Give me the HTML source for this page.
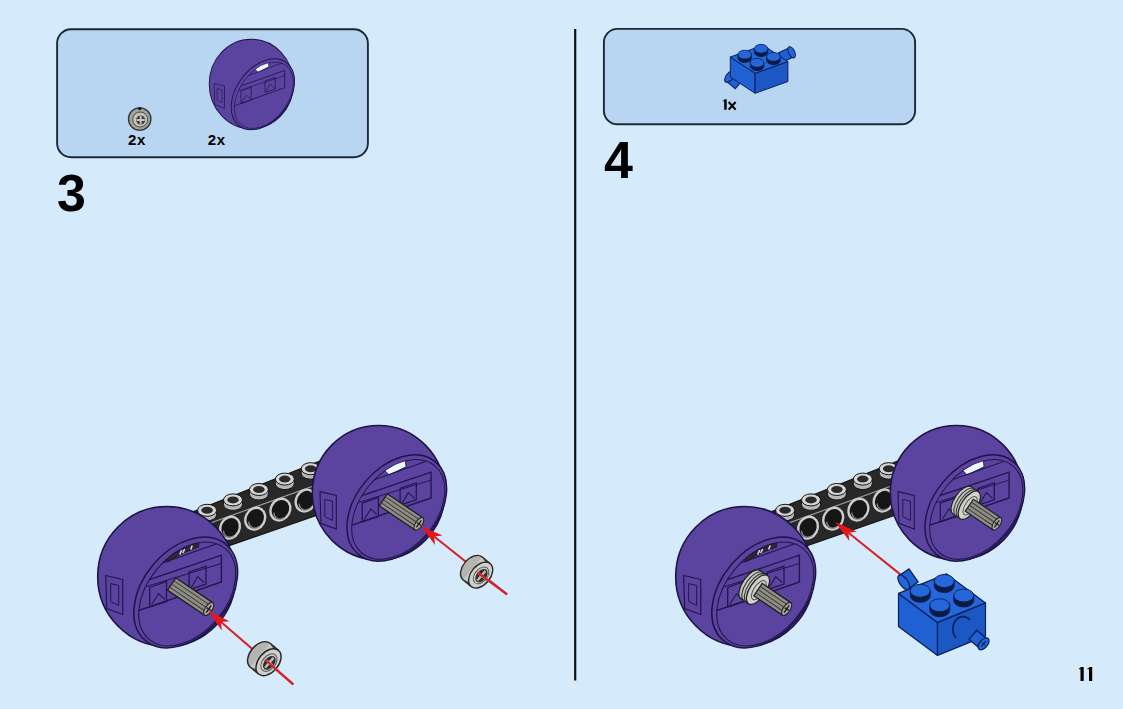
<!DOCTYPE html>
<html><head><meta charset="utf-8">
<style>
html,body{margin:0;padding:0;}
body{width:1123px;height:709px;overflow:hidden;background:#d5eafa;position:relative;font-family:"Liberation Sans",sans-serif;}
.box{position:absolute;background:#b8d6f2;border:1.5px solid #1d2a38;border-radius:14px;box-sizing:border-box;}
.t{position:absolute;font-weight:bold;color:#000;line-height:1;white-space:nowrap;}
.vline{position:absolute;left:574px;top:29px;width:2.2px;height:652px;background:#111;}
svg{position:absolute;left:0;top:0;}
</style></head><body>

<svg width="1123" height="709" viewBox="0 0 1123 709"><rect x="57.1" y="29.2" width="310.8" height="128" rx="14" fill="#b8d6f2" stroke="#1b2837" stroke-width="1.9"/>
<rect x="603.9" y="28.9" width="311.2" height="95.4" rx="13.5" fill="#b8d6f2" stroke="#1b2837" stroke-width="1.9"/>
<rect x="574.1" y="29" width="2.2" height="651.5" fill="#111"/>
<defs><g id="wL">
<ellipse cx="-19" cy="-16" rx="69" ry="70" fill="#5b449f" stroke="#1e1346" stroke-width="1.6"/>
<path d="M-80,-17 L-63,-13 L-63,22 L-79,16 Z" fill="none" stroke="#22164e" stroke-width="1.2"/>
<path d="M-75,-9 L-67,-7 L-67,13 L-75,9 Z" fill="none" stroke="#22164e" stroke-width="1"/>
<ellipse cx="0" cy="0" rx="62.7" ry="42.7" transform="rotate(-50)" fill="#5b449f" stroke="#1e1346" stroke-width="1.5"/>
<clipPath id="wLc"><ellipse cx="1.5" cy="1.5" rx="59.2" ry="39.2" transform="rotate(-50 1.5 1.5)"/></clipPath>
<ellipse cx="1.5" cy="1.5" rx="59.2" ry="39.2" transform="rotate(-50 1.5 1.5)" fill="none" stroke="#22164e" stroke-width="1.1"/>
<g clip-path="url(#wLc)">
<path d="M-20,-33.5 Q-3,-45 13,-50 L13,-45.5 Q-3,-41 -18,-30.5 Z" fill="#2a2a2a" stroke="#1e1346" stroke-width="0.9"/>
<path d="M-6,-38 L-4,-42.5 M-3,-39.5 L-1,-43.5 M5,-43 L6.5,-47" stroke="#d8d8d8" stroke-width="1.6"/>
<path d="M-70,-1.5 L35.7,-37.3 L35.7,-10.5 L-70,26" fill="none" stroke="#22164e" stroke-width="1.4"/>
<path d="M-70,3.5 L35.7,-29" fill="none" stroke="#22164e" stroke-width="1"/>
<path d="M-30,-27 L40,-52" fill="none" stroke="#22164e" stroke-width="1.1"/>
<path d="M-36,-5 L-19.2,-11 L-19.2,9 L-36,14.5 Z" fill="none" stroke="#22164e" stroke-width="1.3"/>
<path d="M-34,12 L-27,1 L-21,7" fill="none" stroke="#22164e" stroke-width="1.1"/>
<path d="M3.4,-20.5 L20.3,-26.3 L20.3,-8.5 L3.4,-3 Z" fill="none" stroke="#22164e" stroke-width="1.3"/>
<path d="M5.5,-5 L12,-16 L18.5,-10" fill="none" stroke="#22164e" stroke-width="1.1"/>
</g>
</g><g id="wR">
<rect x="46" y="-32.5" width="4.5" height="25" fill="#3a2a70" stroke="#1e1346" stroke-width="1"/>
<ellipse cx="-19" cy="-16" rx="69" ry="70" fill="#5b449f" stroke="#1e1346" stroke-width="1.6"/>
<path d="M-80,-17 L-63,-13 L-63,22 L-79,16 Z" fill="none" stroke="#22164e" stroke-width="1.2"/>
<path d="M-75,-9 L-67,-7 L-67,13 L-75,9 Z" fill="none" stroke="#22164e" stroke-width="1"/>
<ellipse cx="0" cy="0" rx="62.7" ry="42.7" transform="rotate(-50)" fill="#5b449f" stroke="#1e1346" stroke-width="1.5"/>
<clipPath id="wRc"><ellipse cx="1.5" cy="1.5" rx="59.2" ry="39.2" transform="rotate(-50 1.5 1.5)"/></clipPath>
<ellipse cx="1.5" cy="1.5" rx="59.2" ry="39.2" transform="rotate(-50 1.5 1.5)" fill="none" stroke="#22164e" stroke-width="1.1"/>
<g clip-path="url(#wRc)">
<path d="M-12.2,-38.7 L-9.4,-44.3 L8.9,-49.2 L9.7,-42.9 L-8,-34.4 Z" fill="#eef6ff" stroke="#1e1346" stroke-width="0.9"/>
<path d="M-70,-1.5 L35.7,-37.3 L35.7,-10.5 L-70,26" fill="none" stroke="#22164e" stroke-width="1.4"/>
<path d="M-70,3.5 L35.7,-29" fill="none" stroke="#22164e" stroke-width="1"/>
<path d="M-30,-27 L40,-52" fill="none" stroke="#22164e" stroke-width="1.1"/>
<path d="M-36,-5 L-19.2,-11 L-19.2,9 L-36,14.5 Z" fill="none" stroke="#22164e" stroke-width="1.3"/>
<path d="M-34,12 L-27,1 L-21,7" fill="none" stroke="#22164e" stroke-width="1.1"/>
<path d="M3.4,-20.5 L20.3,-26.3 L20.3,-8.5 L3.4,-3 Z" fill="none" stroke="#22164e" stroke-width="1.3"/>
<path d="M5.5,-5 L12,-16 L18.5,-10" fill="none" stroke="#22164e" stroke-width="1.1"/>
</g>
</g><g id="beam">
<path d="M150,529 L400,429 L400,486.41 L150,573.16Z" fill="#282828" stroke="#151515" stroke-width="1.2"/>
<path d="M150,544.8 L400,454.8" stroke="#a0a0a0" stroke-width="1.1"/>
<ellipse cx="230" cy="527.7" rx="9.5" ry="11.2" transform="rotate(28 230 527.7)" fill="#161616" stroke="#cdcdcd" stroke-width="2.4"/>
<path d="M223.5,530.7 A7,8.5 28 0 0 234,535.7" fill="none" stroke="#8a8a8a" stroke-width="1.3"/>
<ellipse cx="255.2" cy="518.65" rx="9.5" ry="11.2" transform="rotate(28 255.2 518.65)" fill="#161616" stroke="#cdcdcd" stroke-width="2.4"/>
<path d="M248.7,521.65 A7,8.5 28 0 0 259.2,526.65" fill="none" stroke="#8a8a8a" stroke-width="1.3"/>
<ellipse cx="280.4" cy="509.6" rx="9.5" ry="11.2" transform="rotate(28 280.4 509.6)" fill="#161616" stroke="#cdcdcd" stroke-width="2.4"/>
<path d="M273.9,512.6 A7,8.5 28 0 0 284.4,517.6" fill="none" stroke="#8a8a8a" stroke-width="1.3"/>
<ellipse cx="305.6" cy="500.55" rx="9.5" ry="11.2" transform="rotate(28 305.6 500.55)" fill="#161616" stroke="#cdcdcd" stroke-width="2.4"/>
<path d="M299.1,503.55 A7,8.5 28 0 0 309.6,508.55" fill="none" stroke="#8a8a8a" stroke-width="1.3"/>
<ellipse cx="330.8" cy="491.5" rx="9.5" ry="11.2" transform="rotate(28 330.8 491.5)" fill="#161616" stroke="#cdcdcd" stroke-width="2.4"/>
<path d="M324.3,494.5 A7,8.5 28 0 0 334.8,499.5" fill="none" stroke="#8a8a8a" stroke-width="1.3"/>
<path d="M197.6,510.3 L197.6,514.8 A9.5,6 0 0 0 216.6,514.8 L216.6,510.3 Z" fill="#b8b8b8" stroke="#151515" stroke-width="1"/>
<ellipse cx="207.1" cy="510.3" rx="9.5" ry="6" fill="#d6d6d6" stroke="#151515" stroke-width="1"/>
<ellipse cx="207.1" cy="510.3" rx="5.8" ry="3.5" fill="#2a2a2a"/>
<path d="M223.5,499.9 L223.5,504.4 A9.5,6 0 0 0 242.5,504.4 L242.5,499.9 Z" fill="#b8b8b8" stroke="#151515" stroke-width="1"/>
<ellipse cx="233" cy="499.9" rx="9.5" ry="6" fill="#d6d6d6" stroke="#151515" stroke-width="1"/>
<ellipse cx="233" cy="499.9" rx="5.8" ry="3.5" fill="#2a2a2a"/>
<path d="M249.4,489.5 L249.4,494 A9.5,6 0 0 0 268.4,494 L268.4,489.5 Z" fill="#b8b8b8" stroke="#151515" stroke-width="1"/>
<ellipse cx="258.9" cy="489.5" rx="9.5" ry="6" fill="#d6d6d6" stroke="#151515" stroke-width="1"/>
<ellipse cx="258.9" cy="489.5" rx="5.8" ry="3.5" fill="#2a2a2a"/>
<path d="M275.3,479.1 L275.3,483.6 A9.5,6 0 0 0 294.3,483.6 L294.3,479.1 Z" fill="#b8b8b8" stroke="#151515" stroke-width="1"/>
<ellipse cx="284.8" cy="479.1" rx="9.5" ry="6" fill="#d6d6d6" stroke="#151515" stroke-width="1"/>
<ellipse cx="284.8" cy="479.1" rx="5.8" ry="3.5" fill="#2a2a2a"/>
<path d="M301.2,468.7 L301.2,473.2 A9.5,6 0 0 0 320.2,473.2 L320.2,468.7 Z" fill="#b8b8b8" stroke="#151515" stroke-width="1"/>
<ellipse cx="310.7" cy="468.7" rx="9.5" ry="6" fill="#d6d6d6" stroke="#151515" stroke-width="1"/>
<ellipse cx="310.7" cy="468.7" rx="5.8" ry="3.5" fill="#2a2a2a"/>
<path d="M327.1,458.3 L327.1,462.8 A9.5,6 0 0 0 346.1,462.8 L346.1,458.3 Z" fill="#b8b8b8" stroke="#151515" stroke-width="1"/>
<ellipse cx="336.6" cy="458.3" rx="9.5" ry="6" fill="#d6d6d6" stroke="#151515" stroke-width="1"/>
<ellipse cx="336.6" cy="458.3" rx="5.8" ry="3.5" fill="#2a2a2a"/>
</g></defs>
<use href="#beam"/>
<g transform="translate(185.7,592.5) scale(1)"><use href="#wL"/><g transform="translate(-14,-8.5) rotate(34.05)">
<rect x="0" y="-7.5" width="44.65" height="15" fill="#8e8e86" stroke="#1e1e1e" stroke-width="1.3"/>
<line x1="1" y1="-3.8" x2="41.65" y2="-3.8" stroke="#3c3c36" stroke-width="1"/>
<line x1="1" y1="0" x2="41.65" y2="0" stroke="#3c3c36" stroke-width="1"/>
<line x1="1" y1="3.8" x2="41.65" y2="3.8" stroke="#3c3c36" stroke-width="1"/>
<ellipse cx="44.65" cy="0" rx="3.5" ry="7.5" fill="#a8a8a0" stroke="#1e1e1e" stroke-width="1.1"/>
<path d="M42.15,0 L47.15,0 M44.65,-4.5 L44.65,4.5" stroke="#1e1e1e" stroke-width="1.4"/>
</g></g>
<g transform="translate(396.8,508) scale(0.96)"><use href="#wR"/><g transform="translate(-14,-8.5) rotate(34.05)">
<rect x="0" y="-7.5" width="44.65" height="15" fill="#8e8e86" stroke="#1e1e1e" stroke-width="1.3"/>
<line x1="1" y1="-3.8" x2="41.65" y2="-3.8" stroke="#3c3c36" stroke-width="1"/>
<line x1="1" y1="0" x2="41.65" y2="0" stroke="#3c3c36" stroke-width="1"/>
<line x1="1" y1="3.8" x2="41.65" y2="3.8" stroke="#3c3c36" stroke-width="1"/>
<ellipse cx="44.65" cy="0" rx="3.5" ry="7.5" fill="#a8a8a0" stroke="#1e1e1e" stroke-width="1.1"/>
<path d="M42.15,0 L47.15,0 M44.65,-4.5 L44.65,4.5" stroke="#1e1e1e" stroke-width="1.4"/>
</g></g>
<line x1="293.3" y1="684.4" x2="221.06" y2="621.92" stroke="#d42329" stroke-width="2"/>
<path d="M208.2,610.8 L229.52,621.31 L221.06,621.92 L221.67,630.38Z" fill="#e3161c"/>
<g transform="translate(264.7,659) scale(1.0) rotate(40)">
<ellipse cx="-6" cy="0" rx="10" ry="15.5" fill="#b4b4b0" stroke="#262626" stroke-width="1.4"/>
<rect x="-6" y="-15.5" width="11" height="31" fill="#c8c8c4"/>
<path d="M-6,-15.5 L5,-15.5 M-6,15.5 L5,15.5" stroke="#262626" stroke-width="1.4"/>
<path d="M-2,-15.5 A10,15.5 0 0 1 -2,15.5" fill="none" stroke="#262626" stroke-width="1.2"/>
<path d="M1.5,-15.5 A10,15.5 0 0 1 1.5,15.5" fill="none" stroke="#333" stroke-width="1.1"/>
<path d="M-4,-15 A10,15 0 0 1 -4,15" fill="none" stroke="#444" stroke-width="1"/>
<ellipse cx="5" cy="0" rx="10" ry="15.5" fill="#cfcfcb" stroke="#262626" stroke-width="1.4"/>
<ellipse cx="5.5" cy="0" rx="6.5" ry="10" fill="none" stroke="#555" stroke-width="1"/>
<ellipse cx="6" cy="0" rx="5" ry="8" fill="#2e2e2e"/>
<path d="M6,-6.5 L6,6.5 M2,0 L10,0" stroke="#bdbdb8" stroke-width="2.4"/>
</g>
<line x1="265" y1="659.5" x2="293.3" y2="684.4" stroke="#d42329" stroke-width="2.2"/>
<line x1="507" y1="594.4" x2="434.11" y2="536.48" stroke="#d42329" stroke-width="2"/>
<path d="M420.8,525.9 L442.54,535.51 L434.11,536.48 L435.07,544.91Z" fill="#e3161c"/>
<g transform="translate(477,572) scale(0.96) rotate(40)">
<ellipse cx="-6" cy="0" rx="10" ry="15.5" fill="#b4b4b0" stroke="#262626" stroke-width="1.4"/>
<rect x="-6" y="-15.5" width="11" height="31" fill="#c8c8c4"/>
<path d="M-6,-15.5 L5,-15.5 M-6,15.5 L5,15.5" stroke="#262626" stroke-width="1.4"/>
<path d="M-2,-15.5 A10,15.5 0 0 1 -2,15.5" fill="none" stroke="#262626" stroke-width="1.2"/>
<path d="M1.5,-15.5 A10,15.5 0 0 1 1.5,15.5" fill="none" stroke="#333" stroke-width="1.1"/>
<path d="M-4,-15 A10,15 0 0 1 -4,15" fill="none" stroke="#444" stroke-width="1"/>
<ellipse cx="5" cy="0" rx="10" ry="15.5" fill="#cfcfcb" stroke="#262626" stroke-width="1.4"/>
<ellipse cx="5.5" cy="0" rx="6.5" ry="10" fill="none" stroke="#555" stroke-width="1"/>
<ellipse cx="6" cy="0" rx="5" ry="8" fill="#2e2e2e"/>
<path d="M6,-6.5 L6,6.5 M2,0 L10,0" stroke="#bdbdb8" stroke-width="2.4"/>
</g>
<line x1="477.5" y1="572.5" x2="507" y2="594.4" stroke="#d42329" stroke-width="2.2"/>
<g transform="translate(578,0)">
<use href="#beam"/>
<g transform="translate(185.7,592.5) scale(1)"><use href="#wL"/><g transform="translate(-14,-8.5) rotate(34.05)">
<ellipse cx="1" cy="0" rx="8" ry="17" fill="#c6c6c0" stroke="#222" stroke-width="1.3"/>
<rect x="1" y="-17" width="9" height="34" fill="#c6c6c0"/>
<path d="M1,-17 L10,-17 M1,17 L10,17" stroke="#222" stroke-width="1.3"/>
<path d="M4.5,-17 A8,17 0 0 0 4.5,17" fill="none" stroke="#333" stroke-width="1.1"/>
<path d="M7.5,-17 A8,17 0 0 0 7.5,17" fill="none" stroke="#333" stroke-width="1.1"/>
<ellipse cx="10" cy="0" rx="8" ry="17" fill="#d2d2cc" stroke="#222" stroke-width="1.3"/>
<ellipse cx="11" cy="0" rx="5" ry="11" fill="none" stroke="#555" stroke-width="1"/>
<rect x="10" y="-7.5" width="34.65" height="15" fill="#8e8e86" stroke="#1e1e1e" stroke-width="1.3"/>
<line x1="11" y1="-3.8" x2="41.65" y2="-3.8" stroke="#3c3c36" stroke-width="1"/>
<line x1="11" y1="0" x2="41.65" y2="0" stroke="#3c3c36" stroke-width="1"/>
<line x1="11" y1="3.8" x2="41.65" y2="3.8" stroke="#3c3c36" stroke-width="1"/>
<ellipse cx="44.65" cy="0" rx="3.5" ry="7.5" fill="#a8a8a0" stroke="#1e1e1e" stroke-width="1.1"/>
<path d="M42.15,0 L47.15,0 M44.65,-4.5 L44.65,4.5" stroke="#1e1e1e" stroke-width="1.4"/>
</g></g>
<g transform="translate(396.8,508) scale(0.96)"><use href="#wR"/><g transform="translate(-14,-8.5) rotate(34.05)">
<ellipse cx="1" cy="0" rx="8" ry="17" fill="#c6c6c0" stroke="#222" stroke-width="1.3"/>
<rect x="1" y="-17" width="9" height="34" fill="#c6c6c0"/>
<path d="M1,-17 L10,-17 M1,17 L10,17" stroke="#222" stroke-width="1.3"/>
<path d="M4.5,-17 A8,17 0 0 0 4.5,17" fill="none" stroke="#333" stroke-width="1.1"/>
<path d="M7.5,-17 A8,17 0 0 0 7.5,17" fill="none" stroke="#333" stroke-width="1.1"/>
<ellipse cx="10" cy="0" rx="8" ry="17" fill="#d2d2cc" stroke="#222" stroke-width="1.3"/>
<ellipse cx="11" cy="0" rx="5" ry="11" fill="none" stroke="#555" stroke-width="1"/>
<rect x="10" y="-7.5" width="34.65" height="15" fill="#8e8e86" stroke="#1e1e1e" stroke-width="1.3"/>
<line x1="11" y1="-3.8" x2="41.65" y2="-3.8" stroke="#3c3c36" stroke-width="1"/>
<line x1="11" y1="0" x2="41.65" y2="0" stroke="#3c3c36" stroke-width="1"/>
<line x1="11" y1="3.8" x2="41.65" y2="3.8" stroke="#3c3c36" stroke-width="1"/>
<ellipse cx="44.65" cy="0" rx="3.5" ry="7.5" fill="#a8a8a0" stroke="#1e1e1e" stroke-width="1.1"/>
<path d="M42.15,0 L47.15,0 M44.65,-4.5 L44.65,4.5" stroke="#1e1e1e" stroke-width="1.4"/>
</g></g>
</g>
<line x1="900.3" y1="574.4" x2="848.44" y2="532.66" stroke="#d42329" stroke-width="2"/>
<path d="M835.2,522 L856.88,531.75 L848.44,532.66 L849.35,541.1Z" fill="#e3161c"/>
<g transform="translate(907,580) rotate(-35)"><rect x="-4" y="-8" width="12" height="16" fill="#1f60d2" stroke="#0a1f5c" stroke-width="1.3"/><ellipse cx="-4" cy="0" rx="4" ry="8.5" fill="#2567d8" stroke="#0a1f5c" stroke-width="1.3"/></g>
<path d="M898.5,593.4 L937.5,622.4 L937.5,655.4 L898.5,626.4Z" fill="#1f60d2" stroke="#0a1f5c" stroke-width="1.2" stroke-linejoin="round"/>
<path d="M937.5,622.4 L985.5,602.9 L985.5,635.9 L937.5,655.4Z" fill="#1b58c4" stroke="#0a1f5c" stroke-width="1.2" stroke-linejoin="round"/>
<path d="M898.5,593.4 L946.5,573.9 L985.5,602.9 L937.5,622.4Z" fill="#2567d8" stroke="#0a1f5c" stroke-width="1.2" stroke-linejoin="round"/>
<path d="M934.25,581.02 L934.25,586.02 A10,6.5 0 0 0 954.25,586.02 L954.25,581.02 Z" fill="#0d1b40" stroke="#0a1f5c" stroke-width="0.96"/>
<ellipse cx="944.25" cy="581.02" rx="10" ry="6.5" fill="#2567d8" stroke="#0a1f5c" stroke-width="0.96"/>
<path d="M910.25,590.77 L910.25,595.77 A10,6.5 0 0 0 930.25,595.77 L930.25,590.77 Z" fill="#0d1b40" stroke="#0a1f5c" stroke-width="0.96"/>
<ellipse cx="920.25" cy="590.77" rx="10" ry="6.5" fill="#2567d8" stroke="#0a1f5c" stroke-width="0.96"/>
<path d="M953.75,595.52 L953.75,600.52 A10,6.5 0 0 0 973.75,600.52 L973.75,595.52 Z" fill="#0d1b40" stroke="#0a1f5c" stroke-width="0.96"/>
<ellipse cx="963.75" cy="595.52" rx="10" ry="6.5" fill="#2567d8" stroke="#0a1f5c" stroke-width="0.96"/>
<path d="M929.75,605.27 L929.75,610.27 A10,6.5 0 0 0 949.75,610.27 L949.75,605.27 Z" fill="#0d1b40" stroke="#0a1f5c" stroke-width="0.96"/>
<ellipse cx="939.75" cy="605.27" rx="10" ry="6.5" fill="#2567d8" stroke="#0a1f5c" stroke-width="0.96"/>
<path d="M956,638 A9,11 0 1 1 970,620" fill="none" stroke="#0a1f5c" stroke-width="1.6"/>
<g transform="translate(979,640) rotate(40)"><rect x="-8" y="-6" width="14" height="12" fill="#1f60d2" stroke="#0a1f5c" stroke-width="1.3"/><ellipse cx="6" cy="0" rx="4" ry="7" fill="#2567d8" stroke="#0a1f5c" stroke-width="1.3"/><path d="M4,0 L8,0 M6,-3.5 L6,3.5" stroke="#0a1f5c" stroke-width="1.2"/></g>
<g transform="translate(733,79) rotate(40)"><rect x="-4" y="-6" width="12" height="12" fill="#1f60d2" stroke="#0a1f5c" stroke-width="1.1"/><ellipse cx="-4" cy="0" rx="3.5" ry="7" fill="#2567d8" stroke="#0a1f5c" stroke-width="1.1"/></g>
<g transform="translate(788,54) rotate(-25)"><rect x="-8" y="-5" width="12" height="10" fill="#1f60d2" stroke="#0a1f5c" stroke-width="1.1"/><ellipse cx="4" cy="0" rx="3" ry="6" fill="#2567d8" stroke="#0a1f5c" stroke-width="1.1"/></g>
<path d="M730.3,57 L755.1,73.3 L755.1,93.3 L730.3,77Z" fill="#1f60d2" stroke="#0a1f5c" stroke-width="1" stroke-linejoin="round"/>
<path d="M755.1,73.3 L787.9,61.5 L787.9,81.5 L755.1,93.3Z" fill="#1b58c4" stroke="#0a1f5c" stroke-width="1" stroke-linejoin="round"/>
<path d="M730.3,57 L763.1,45.2 L787.9,61.5 L755.1,73.3Z" fill="#2567d8" stroke="#0a1f5c" stroke-width="1" stroke-linejoin="round"/>
<path d="M754.3,48.73 L754.3,52.23 A6.8,4.4 0 0 0 767.9,52.23 L767.9,48.73 Z" fill="#0d1b40" stroke="#0a1f5c" stroke-width="0.8"/>
<ellipse cx="761.1" cy="48.73" rx="6.8" ry="4.4" fill="#2567d8" stroke="#0a1f5c" stroke-width="0.8"/>
<path d="M737.9,54.62 L737.9,58.12 A6.8,4.4 0 0 0 751.5,58.12 L751.5,54.62 Z" fill="#0d1b40" stroke="#0a1f5c" stroke-width="0.8"/>
<ellipse cx="744.7" cy="54.62" rx="6.8" ry="4.4" fill="#2567d8" stroke="#0a1f5c" stroke-width="0.8"/>
<path d="M766.7,56.88 L766.7,60.38 A6.8,4.4 0 0 0 780.3,60.38 L780.3,56.88 Z" fill="#0d1b40" stroke="#0a1f5c" stroke-width="0.8"/>
<ellipse cx="773.5" cy="56.88" rx="6.8" ry="4.4" fill="#2567d8" stroke="#0a1f5c" stroke-width="0.8"/>
<path d="M750.3,62.78 L750.3,66.28 A6.8,4.4 0 0 0 763.9,66.28 L763.9,62.78 Z" fill="#0d1b40" stroke="#0a1f5c" stroke-width="0.8"/>
<ellipse cx="757.1" cy="62.78" rx="6.8" ry="4.4" fill="#2567d8" stroke="#0a1f5c" stroke-width="0.8"/>
<path d="M1083.7,666.9 L1083.7,680.9 L1080.5,680.9 L1080.5,669.22 L1078.9,669.22 L1078.9,668.42 Q1080.6,668.34 1080.8,666.9 Z" fill="#000"/>
<path d="M1092.2,666.9 L1092.2,680.9 L1089,680.9 L1089,669.22 L1087.4,669.22 L1087.4,668.42 Q1089.1,668.34 1089.3,666.9 Z" fill="#000"/>
<path d="M726.7,99.2 L726.7,109.65 L724.2,109.65 L724.2,101.23 L722.8,101.23 L722.8,100.53 Q724.3,100.46 724.5,99.2 Z" fill="#000"/>
<path d="M728.7,102 L735.6,109.65 M735.6,102 L728.7,109.65" stroke="#000" stroke-width="2.1"/>
<g transform="translate(262.9,94.3) scale(0.61,0.64)"><use href="#wR"/></g>
<g transform="translate(139.7,119)"><circle r="11.2" fill="#a2a29a" stroke="#30343a" stroke-width="1.3"/><circle cx="0.5" cy="0.5" r="7.5" fill="#c4c4bc" stroke="#4a4a48" stroke-width="1"/><circle cx="1" cy="1" r="4.5" fill="#3a3a3a"/><path d="M1,-3 L1,5 M-3,1 L5,1" stroke="#c8c8c0" stroke-width="1.8"/><circle cx="0" cy="-10.5" r="1.6" fill="#111"/></g></svg>
<div class="t" id="n3" style="left:57px;top:166.8px;font-size:52px;">3</div>
<div class="t" id="n4" style="left:604px;top:134px;font-size:52px;">4</div>
<div class="t" id="l1" style="left:128px;top:132px;font-size:15px;letter-spacing:0.6px;">2x</div>
<div class="t" id="l2" style="left:207.7px;top:132px;font-size:15px;letter-spacing:0.6px;">2x</div>
</body></html>
